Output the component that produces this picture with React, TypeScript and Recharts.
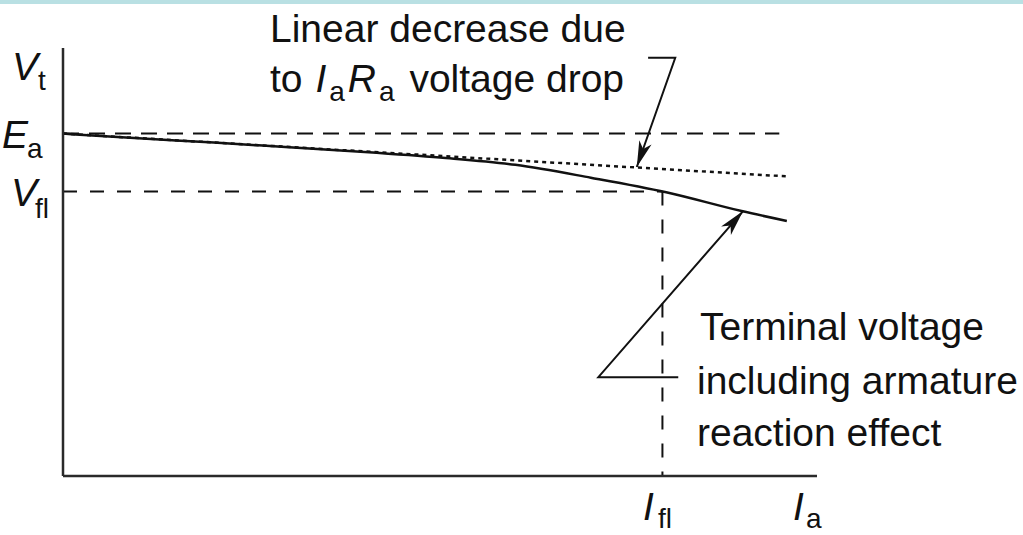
import React from 'react';
import { LineChart, Line, XAxis, YAxis, ReferenceLine } from 'recharts';

// armature current axis (0..100) and terminal voltage axis (0..100), arbitrary units
const CURVE_IA = [0, 10, 20, 30, 40, 50, 60, 70, 80, 90, 96];
const CURVE_VT = [80, 78.9, 77.9, 76.8, 75.7, 74.4, 72.7, 69.7, 66.3, 61.9, 59.6];

const LINEAR_IA = [0, 96];
const LINEAR_VT = [80, 70];

const E_A = 80;
const E_A_END = 95;
const V_FL = 66.5;
const I_FL = 79.5;

// leader lines for the two notes
const DROP_ARROW_X = [77.6, 81.2, 76.1];
const DROP_ARROW_Y = [97.7, 97.7, 72.2];
const TERM_ARROW_X = [81.6, 71.0, 90.2];
const TERM_ARROW_Y = [23.1, 23.1, 61.9];

const zip = (xs: number[], ys: number[]) => xs.map((x, i) => ({ x, y: ys[i] }));

const curveData = zip(CURVE_IA, CURVE_VT);
const linearData = zip(LINEAR_IA, LINEAR_VT);
const dropArrow = zip(DROP_ARROW_X, DROP_ARROW_Y);
const termArrow = zip(TERM_ARROW_X, TERM_ARROW_Y);

const INK = '#111';
const AXIS = '#2a2a2a';
const FONT = '"Liberation Sans", Arial, Helvetica, sans-serif';
const BIG = 39;
const SUB = 28;

function Sym({ x, y, main, sub, subX, subDy }: { x: number; y: number; main: string; sub: string; subX: number; subDy: number }) {
  return (
    <>
      <text x={x} y={y} fontSize={BIG} fontStyle="italic">{main}</text>
      <text x={subX} y={y + subDy} fontSize={SUB}>{sub}</text>
    </>
  );
}

function Labels() {
  return (
    <svg
      width={1023}
      height={535}
      style={{ position: 'absolute', left: 0, top: 0, pointerEvents: 'none' }}
      fontFamily={FONT}
      fill={INK}
    >
      <text x={270} y={42} fontSize={BIG}>Linear decrease due</text>
      <text x={270} y={92} fontSize={BIG}>
        <tspan>to </tspan>
        <tspan fontStyle="italic" dx={2}>I</tspan>
        <tspan fontSize={SUB} dx={3} dy={9}>a</tspan>
        <tspan fontStyle="italic" dx={3} dy={-9}>R</tspan>
        <tspan fontSize={SUB} dx={3} dy={9}>a</tspan>
        <tspan dx={4} dy={-9}> voltage drop</tspan>
      </text>

      <text x={700} y={340} fontSize={BIG}>Terminal voltage</text>
      <text x={697} y={394} fontSize={BIG}>including armature</text>
      <text x={697} y={446} fontSize={BIG}>reaction effect</text>

      <Sym x={12} y={80} main="V" sub="t" subX={38} subDy={10} />
      <Sym x={2} y={148} main="E" sub="a" subX={27} subDy={10} />
      <Sym x={11} y={206} main="V" sub="fl" subX={35} subDy={12} />
      <Sym x={643} y={520} main="I" sub="fl" subX={658} subDy={8} />
      <Sym x={793} y={520} main="I" sub="a" subX={806} subDy={8} />
    </svg>
  );
}

export default function App() {
  return (
    <div style={{ position: 'absolute', left: 0, top: 0, width: 1023, height: 535, background: '#fff' }}>
      <div style={{ position: 'absolute', left: 0, top: 0, width: 1023, height: 4, background: '#b9e0e3' }} />
      <LineChart
        width={1023}
        height={535}
        margin={{ top: 48, right: 206, bottom: 57, left: 61 }}
      >
        <defs>
          <marker
            id="arrowHead"
            viewBox="-27 -7 28 14"
            refX={0}
            refY={0}
            markerWidth={28}
            markerHeight={14}
            markerUnits="userSpaceOnUse"
            orient="auto"
          >
            <path d="M0,0 L-26,-6.5 L-19,0 L-26,6.5 Z" fill={INK} />
          </marker>
        </defs>
        <XAxis
          type="number"
          dataKey="x"
          domain={[0, 100]}
          height={2}
          tick={false}
          tickLine={false}
          axisLine={{ stroke: AXIS, strokeWidth: 2.5 }}
        />
        <YAxis
          type="number"
          dataKey="y"
          domain={[0, 100]}
          width={2}
          tick={false}
          tickLine={false}
          axisLine={{ stroke: AXIS, strokeWidth: 2.5 }}
        />
        <ReferenceLine
          segment={[{ x: 0, y: E_A }, { x: E_A_END, y: E_A }]}
          stroke={INK}
          strokeWidth={2}
          strokeDasharray="16 10"
        />
        <ReferenceLine
          segment={[{ x: 0, y: V_FL }, { x: I_FL, y: V_FL }]}
          stroke={INK}
          strokeWidth={2}
          strokeDasharray="14 13"
        />
        <ReferenceLine
          segment={[{ x: I_FL, y: V_FL }, { x: I_FL, y: 0 }]}
          stroke={INK}
          strokeWidth={2}
          strokeDasharray="14 14"
        />
        <Line
          data={linearData}
          dataKey="y"
          type="linear"
          stroke={INK}
          strokeWidth={2.5}
          strokeDasharray="4 4"
          dot={false}
          isAnimationActive={false}
        />
        <Line
          data={curveData}
          dataKey="y"
          type="monotone"
          stroke={INK}
          strokeWidth={2.5}
          dot={false}
          isAnimationActive={false}
        />
        <Line
          data={dropArrow}
          dataKey="y"
          type="linear"
          stroke={INK}
          strokeWidth={2}
          dot={false}
          markerEnd="url(#arrowHead)"
          isAnimationActive={false}
        />
        <Line
          data={termArrow}
          dataKey="y"
          type="linear"
          stroke={INK}
          strokeWidth={2}
          dot={false}
          markerEnd="url(#arrowHead)"
          isAnimationActive={false}
        />
      </LineChart>
      <Labels />
    </div>
  );
}
